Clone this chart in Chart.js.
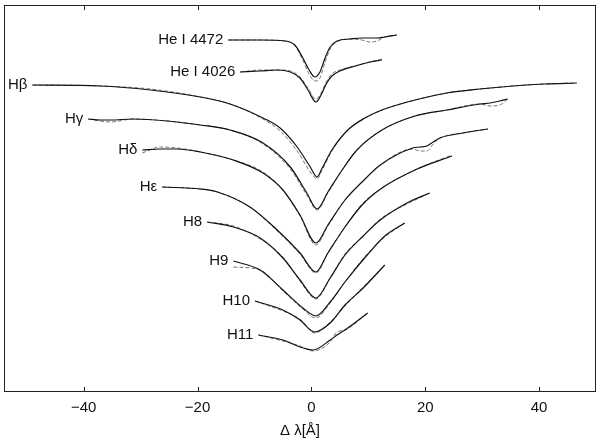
<!DOCTYPE html>
<html>
<head>
<meta charset="utf-8">
<script src="https://cdn.jsdelivr.net/npm/chart.js@4/dist/chart.umd.min.js"></script>
<style>
  body { margin: 0; background: #fff; }
</style>
</head>
<body>
<canvas id="chart" width="600" height="440"></canvas>
<script>
// wavelength offset (Å) and normalised flux + offset; model = solid, obs = dashed
const he4472Dl = [-14.6, -9.0, -4.6, -2.9, -1.5, -0.4, 0.6, 1.5, 2.4, 3.3, 4.5, 6.8, 8.9, 10.3, 11.5, 12.9, 15.0];
const he4472Model = [3.52, 3.52, 3.51, 3.47, 3.34, 3.22, 3.15, 3.20, 3.34, 3.45, 3.51, 3.53, 3.54, 3.54, 3.54, 3.55, 3.57];
const he4472Obs = [3.52, 3.52, 3.51, 3.46, 3.32, 3.18, 3.11, 3.14, 3.30, 3.43, 3.50, 3.53, 3.52, 3.50, 3.51, 3.55, 3.57];

const he4026Dl = [-12.5, -9.0, -6.0, -3.7, -2.0, -0.6, 0.8, 1.7, 2.6, 3.6, 5.0, 7.7, 10.3, 12.4];
const he4026Model = [3.20, 3.21, 3.22, 3.20, 3.14, 3.02, 2.90, 2.97, 3.08, 3.16, 3.21, 3.26, 3.30, 3.32];
const he4026Obs = [3.20, 3.22, 3.22, 3.21, 3.15, 3.04, 2.93, 2.99, 3.10, 3.18, 3.22, 3.26, 3.30, 3.33];

const hbDl = [-49.0, -37.1, -28.3, -19.5, -14.3, -8.5, -5.5, -2.5, -0.2, 1.0, 1.9, 3.6, 6.4, 9.4, 12.4, 18.2, 23.8, 29.6, 35.4, 41.0, 46.6];
const hbModel = [3.07, 3.06, 3.02, 2.95, 2.88, 2.74, 2.64, 2.45, 2.25, 2.15, 2.24, 2.42, 2.62, 2.74, 2.82, 2.92, 2.99, 3.03, 3.06, 3.08, 3.09];
const hbObs = [3.07, 3.06, 3.03, 2.95, 2.88, 2.73, 2.61, 2.41, 2.20, 2.13, 2.22, 2.41, 2.62, 2.74, 2.82, 2.92, 2.99, 3.03, 3.06, 3.08, 3.09];

const hgDl = [-39.2, -37.1, -35.3, -31.3, -25.3, -19.5, -14.3, -8.5, -3.7, -0.8, 1.0, 2.9, 5.4, 8.0, 12.4, 18.2, 23.8, 29.6, 31.4, 33.1, 34.5];
const hgModel = [2.73, 2.72, 2.72, 2.73, 2.71, 2.67, 2.62, 2.49, 2.25, 1.99, 1.83, 2.00, 2.22, 2.42, 2.62, 2.76, 2.82, 2.88, 2.89, 2.91, 2.93];
const hgObs = [2.73, 2.71, 2.70, 2.73, 2.71, 2.67, 2.62, 2.48, 2.23, 1.97, 1.82, 1.99, 2.22, 2.42, 2.62, 2.76, 2.82, 2.88, 2.86, 2.87, 2.93];

const hdDl = [-29.7, -26.5, -23.6, -19.5, -13.7, -8.5, -5.0, -2.0, 0.8, 2.9, 5.9, 8.9, 12.1, 17.8, 19.1, 20.3, 21.4, 22.6, 26.6, 31.0];
const hdModel = [2.42, 2.43, 2.43, 2.40, 2.32, 2.19, 2.02, 1.77, 1.49, 1.67, 1.92, 2.10, 2.27, 2.44, 2.45, 2.46, 2.50, 2.54, 2.59, 2.63];
const hdObs = [2.39, 2.45, 2.44, 2.40, 2.32, 2.20, 2.02, 1.76, 1.47, 1.66, 1.92, 2.10, 2.27, 2.43, 2.41, 2.41, 2.48, 2.54, 2.59, 2.63];

const heDl = [-26.2, -19.5, -16.5, -10.8, -6.0, -2.0, 0.8, 2.9, 5.9, 8.9, 12.4, 18.2, 24.7];
const heModel = [2.05, 2.03, 2.00, 1.85, 1.62, 1.39, 1.20, 1.39, 1.65, 1.87, 2.04, 2.22, 2.36];
const heObs = [2.05, 2.03, 2.00, 1.85, 1.61, 1.38, 1.19, 1.39, 1.65, 1.88, 2.04, 2.22, 2.37];

const h8Dl = [-18.3, -13.7, -9.0, -5.0, -2.0, 0.8, 3.3, 5.9, 9.1, 12.1, 16.8, 20.8];
const h8Model = [1.70, 1.65, 1.54, 1.34, 1.12, 0.94, 1.14, 1.37, 1.56, 1.72, 1.89, 1.99];
const h8Obs = [1.70, 1.66, 1.53, 1.35, 1.11, 0.93, 1.14, 1.38, 1.56, 1.73, 1.88, 1.99];

const h9Dl = [-13.7, -9.0, -5.0, -1.5, 0.8, 3.3, 5.9, 9.8, 12.9, 16.4];
const h9Model = [1.31, 1.22, 1.02, 0.84, 0.76, 0.90, 1.10, 1.37, 1.56, 1.69];
const h9Obs = [1.25, 1.22, 1.01, 0.83, 0.74, 0.89, 1.10, 1.38, 1.55, 1.69];

const h10Dl = [-9.9, -5.0, -2.0, 0.6, 3.3, 5.9, 9.1, 12.9];
const h10Model = [0.91, 0.82, 0.72, 0.60, 0.69, 0.87, 1.04, 1.27];
const h10Obs = [0.91, 0.81, 0.73, 0.59, 0.70, 0.86, 1.05, 1.27];

const h11Dl = [-9.3, -5.0, -2.0, 0.3, 3.3, 4.5, 5.9, 9.9];
const h11Model = [0.57, 0.52, 0.45, 0.42, 0.52, 0.57, 0.62, 0.79];
const h11Obs = [0.57, 0.51, 0.46, 0.41, 0.50, 0.60, 0.62, 0.79];

const lineNames = ['He I 4472', 'He I 4026', 'Hβ', 'Hγ', 'Hδ', 'Hε', 'H8', 'H9', 'H10', 'H11'];
const xTicks = [-40, -20, 0, 20, 40];

const profiles = [
  [he4472Dl, he4472Model, he4472Obs],
  [he4026Dl, he4026Model, he4026Obs],
  [hbDl, hbModel, hbObs],
  [hgDl, hgModel, hgObs],
  [hdDl, hdModel, hdObs],
  [heDl, heModel, heObs],
  [h8Dl, h8Model, h8Obs],
  [h9Dl, h9Model, h9Obs],
  [h10Dl, h10Model, h10Obs],
  [h11Dl, h11Model, h11Obs],
];

const FONT = '"Liberation Sans", Arial, Helvetica, sans-serif';
const pts = (xs, ys) => xs.map((x, i) => ({ x: x, y: ys[i] }));

const datasets = [];
profiles.forEach(([dl, model, obs], i) => {
  datasets.push({
    label: lineNames[i] + ' obs',
    data: pts(dl, obs),
    borderColor: '#777',
    borderWidth: 1,
    borderDash: [4, 2],
    cubicInterpolationMode: 'monotone',
    order: 2,
  });
});
profiles.forEach(([dl, model], i) => {
  datasets.push({
    label: lineNames[i],
    data: pts(dl, model),
    borderColor: '#111',
    borderWidth: 1.2,
    cubicInterpolationMode: 'monotone',
    order: 1,
  });
});

// frame, inward ticks, and line names
const decor = {
  id: 'decor',
  afterDraw(chart) {
    const { ctx, chartArea: a, scales } = chart;
    const xs = scales.x, ys = scales.y;
    ctx.save();
    ctx.strokeStyle = '#222';
    ctx.lineWidth = 1;
    ctx.strokeRect(a.left + 0.5, a.top + 0.5, a.right - a.left - 1, a.bottom - a.top - 1);
    ctx.beginPath();
    xTicks.forEach((v) => {
      const px = Math.round(xs.getPixelForValue(v)) + 0.5;
      ctx.moveTo(px, a.bottom);
      ctx.lineTo(px, a.bottom - 5);
      ctx.moveTo(px, a.top);
      ctx.lineTo(px, a.top + 5);
    });
    ctx.stroke();

    ctx.fillStyle = '#111';
    ctx.font = '15px ' + FONT;
    ctx.textAlign = 'right';
    ctx.textBaseline = 'middle';
    profiles.forEach(([dl, model], i) => {
      const px = xs.getPixelForValue(dl[0]) - 5;
      const py = ys.getPixelForValue(model[0]);
      ctx.fillText(lineNames[i], px, py);
    });
    ctx.restore();
  },
};

new Chart(document.getElementById('chart'), {
  type: 'scatter',
  data: { datasets: datasets },
  options: {
    responsive: false,
    animation: false,
    showLine: true,
    elements: { point: { radius: 0 } },
    layout: { padding: { left: 4, right: 4, top: 5, bottom: 0 } },
    plugins: { legend: { display: false }, tooltip: { enabled: false } },
    scales: {
      x: {
        type: 'linear',
        min: -54,
        max: 50,
        afterBuildTicks: (axis) => { axis.ticks = xTicks.map((v) => ({ value: v })); },
        afterFit: (axis) => { axis.height = 48; },
        grid: { display: false, drawTicks: false },
        border: { display: false },
        ticks: {
          padding: 7,
          color: '#111',
          font: { family: FONT, size: 15 },
          callback: (v) => (v < 0 ? '\u2212' + Math.abs(v) : String(v)),
        },
        title: {
          display: true,
          text: 'Δ λ[Å]',
          color: '#111',
          font: { family: FONT, size: 15 },
          padding: { top: 0, bottom: 0 },
        },
      },
      y: {
        display: false,
        min: 0,
        max: 3.87,
      },
    },
  },
  plugins: [decor],
});
</script>
</body>
</html>
